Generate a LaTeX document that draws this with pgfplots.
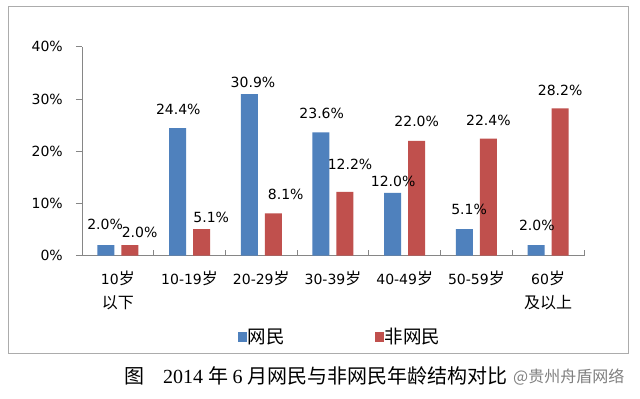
\documentclass[border=0pt]{standalone}
\usepackage{pgfplots}
\pgfplotsset{compat=1.18}
\usepackage{fontspec}
\setmainfont{DejaVu Sans}
\newfontfamily\cjk{Noto Sans CJK SC}
\newfontfamily\capserif{Liberation Serif}
\definecolor{blueS}{HTML}{4F81BD}
\definecolor{redS}{HTML}{C0504D}
\definecolor{axgray}{HTML}{868686}
\newcommand{\cj}[1]{{\cjk\fontsize{16bp}{16bp}\selectfont #1}}
\newcommand{\lab}[5]{\node[font=\fontsize{14bp}{14bp}\selectfont, inner sep=0pt, xshift=#3bp, yshift=#4bp] at (axis cs:#1,#2) {#5\%};}
\begin{document}
\begin{tikzpicture}
\useasboundingbox (0,0) rectangle (640bp,399bp);
\fill[white] (0,0) rectangle (640bp,399bp);
\draw[gray!65, line width=1bp] (8bp,45bp) rectangle (628bp,392bp);
\begin{axis}[
  at={(82bp,143.3bp)}, anchor=south west,
  scale only axis, width=502bp, height=209bp,
  xmin=-0.5, xmax=6.5, ymin=0, ymax=40,
  ybar=7bp, bar width=17bp,
  axis x line*=bottom, axis y line*=left,
  axis line style={axgray, line width=0.8bp},
  tick align=inside,
  major tick length=6bp, minor tick length=6bp,
  xtick={0,...,6},
  xticklabels={{10\cj{岁}\\\cj{以下}},{10-19\cj{岁}},{20-29\cj{岁}},{30-39\cj{岁}},{40-49\cj{岁}},{50-59\cj{岁}},{60\cj{岁}\\\cj{及以上}}},
  minor xtick={-0.5,0.5,...,6.5},
  major x tick style={draw=none},
  minor x tick style={axgray, line width=0.8bp},
  ytick={0,10,20,30,40},
  y tick style={axgray, line width=0.8bp, xshift=-6bp},
  /pgf/number format/assume math mode=true,
  yticklabel={\pgfmathprintnumber{\tick}\%},
  yticklabel style={font=\fontsize{14bp}{14bp}\selectfont, inner sep=0pt, xshift=-19bp},
  xticklabel style={font=\fontsize{14bp}{24bp}\selectfont, align=center, anchor=north, inner sep=0pt, yshift=-15bp},
  legend style={at={(0.513,-0.389)}, anchor=center, draw=none, fill=none, legend columns=2,
    nodes={inner sep=0.8bp},
    /tikz/column 2/.style={column sep=89bp}},
  legend image code/.code={\fill[#1] (0bp,-4.5bp) rectangle (9bp,4.5bp);},
]
\addplot[fill=blueS, draw=none, legend image code/.code={\fill[blueS] (0bp,-4.5bp) rectangle (9bp,4.5bp);}] coordinates {(0,2.0) (1,24.4) (2,30.9) (3,23.6) (4,12.0) (5,5.1) (6,2.0)};
\addlegendentry{\cjk\fontsize{18.5bp}{18.5bp}\selectfont 网民}
\addplot[fill=redS, draw=none, legend image code/.code={\fill[redS] (0bp,-4.5bp) rectangle (9bp,4.5bp);}] coordinates {(0,2.0) (1,5.1) (2,8.1) (3,12.2) (4,22.0) (5,22.4) (6,28.2)};
\addlegendentry{\cjk\fontsize{18.5bp}{18.5bp}\selectfont 非网民}
\lab{0}{2.0}{-12.8}{21}{2.0}
\lab{0}{2.0}{21.7}{12.5}{2.0}
\lab{1}{24.4}{-11.3}{19}{24.4}
\lab{1}{5.1}{21.7}{11.5}{5.1}
\lab{2}{30.9}{-8.3}{12}{30.9}
\lab{2}{8.1}{24.4}{19.3}{8.1}
\lab{3}{23.6}{-11.3}{19.4}{23.6}
\lab{3}{12.2}{17}{28}{12.2}
\lab{4}{12.0}{-11.6}{12}{12.0}
\lab{4}{22.0}{12}{19}{22.0}
\lab{5}{5.1}{-7.3}{20}{5.1}
\lab{5}{22.4}{12}{18}{22.4}
\lab{6}{2.0}{-11.3}{20}{2.0}
\lab{6}{28.2}{12}{18}{28.2}
\end{axis}
\node[anchor=base west, inner sep=0pt] at (124bp,16bp) {\cjk\fontsize{20bp}{20bp}\selectfont 图};
\node[anchor=base west, inner sep=0pt] at (163bp,16bp) {\fontsize{20bp}{20bp}\selectfont\capserif 2014 \cjk 年 \capserif 6 \cjk 月网民与非网民年龄结构对比};
\node[anchor=base west, inner sep=0pt, text=gray] at (513bp,17bp) {\cjk\fontsize{16bp}{16bp}\selectfont @贵州舟盾网络};
\end{tikzpicture}
\end{document}
